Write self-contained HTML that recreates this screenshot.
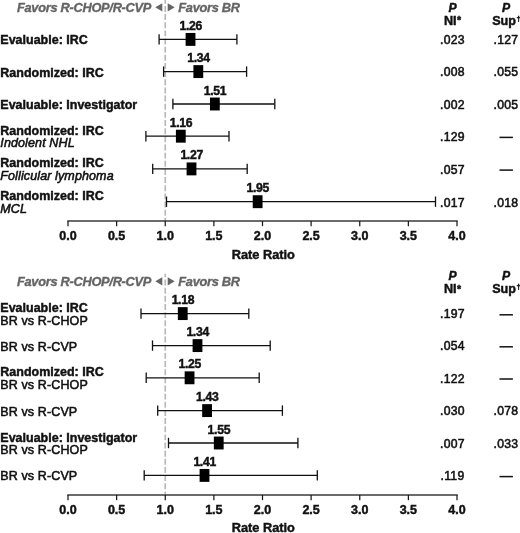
<!DOCTYPE html>
<html><head><meta charset="utf-8"><style>
html,body{margin:0;padding:0;background:#fff;}
svg{display:block;will-change:transform;}
text{font-family:"Liberation Sans",sans-serif;fill:#111;stroke:#111;stroke-width:0.45px;}
.lb{font-weight:bold;font-size:12.5px;letter-spacing:0px;}
.li{font-style:italic;font-size:12.5px;letter-spacing:0.12px;stroke-width:0.55px;}
.lr{font-size:12.5px;letter-spacing:0.12px;stroke-width:0.55px;}
.hdr{font-weight:bold;font-style:italic;font-size:12.8px;letter-spacing:-0.28px;fill:#646464;stroke:#646464;stroke-width:0.35px;}
.tri{fill:#646464;}
.ph{font-weight:bold;font-style:italic;font-size:12.2px;}
.pb{font-weight:bold;font-size:12.6px;}
.pv{font-size:12.2px;letter-spacing:0.3px;stroke-width:0.55px;}
.val{font-weight:bold;font-size:12.2px;letter-spacing:-0.3px;}
.tick{font-weight:bold;font-size:12.5px;}
.rr{font-weight:bold;font-size:12.8px;}
.ci{stroke:#111;stroke-width:1.3;}
.em{stroke:#111;stroke-width:1.5;}
.box{fill:#000;}
.ax{stroke:#3a3a3a;stroke-width:1.7;}
.tk{stroke:#1a1a1a;stroke-width:1.25;}
.dash{stroke:#bababa;stroke-width:1.7;stroke-dasharray:5.95 2.2;}
</style></head><body>
<svg width="520" height="533" viewBox="0 0 520 533">
<line x1="165.25" y1="0" x2="165.25" y2="221.0" class="dash" stroke-dashoffset="2.2"/>
<text x="17.00" y="11.50" class="hdr" text-anchor="start">Favors R-CHOP/R-CVP</text>
<text x="178.30" y="11.50" class="hdr" text-anchor="start">Favors BR</text>
<path d="M155.3 7.30 L162.3 3.20 L162.3 11.40 Z" class="tri"/>
<path d="M174.7 7.30 L167.7 3.20 L167.7 11.40 Z" class="tri"/>
<text x="452.60" y="11.90" class="ph" text-anchor="middle">P</text>
<text x="444.00" y="24.70" class="pb" text-anchor="start">NI<tspan font-size="10.5" dy="-0.6" dx="0.3">*</tspan></text>
<text x="506.00" y="11.90" class="ph" text-anchor="middle">P</text>
<text x="492.20" y="24.70" class="pb" text-anchor="start">Sup<tspan font-size="7.5" dy="-4" dx="0.6">†</tspan></text>
<text x="0.30" y="44.40" class="lb" text-anchor="start">Evaluable: IRC</text>
<line x1="159.10" y1="39.40" x2="236.90" y2="39.40" class="ci"/>
<line x1="159.10" y1="34.20" x2="159.10" y2="44.60" class="ci"/>
<line x1="236.90" y1="34.20" x2="236.90" y2="44.60" class="ci"/>
<rect x="185.63" y="32.95" width="9.8" height="12.9" class="box"/>
<text x="190.69" y="29.90" class="val" text-anchor="middle">1.26</text>
<text x="452.50" y="44.20" class="pv" text-anchor="middle">.023</text>
<text x="506.00" y="44.20" class="pv" text-anchor="middle">.127</text>
<text x="0.30" y="76.60" class="lb" text-anchor="start">Randomized: IRC</text>
<line x1="163.60" y1="71.60" x2="246.60" y2="71.60" class="ci"/>
<line x1="163.60" y1="66.40" x2="163.60" y2="76.80" class="ci"/>
<line x1="246.60" y1="66.40" x2="246.60" y2="76.80" class="ci"/>
<rect x="193.41" y="65.15" width="9.8" height="12.9" class="box"/>
<text x="198.47" y="62.10" class="val" text-anchor="middle">1.34</text>
<text x="452.50" y="76.40" class="pv" text-anchor="middle">.008</text>
<text x="506.00" y="76.40" class="pv" text-anchor="middle">.055</text>
<text x="0.30" y="109.00" class="lb" text-anchor="start">Evaluable: Investigator</text>
<line x1="172.90" y1="104.00" x2="274.80" y2="104.00" class="ci"/>
<line x1="172.90" y1="98.80" x2="172.90" y2="109.20" class="ci"/>
<line x1="274.80" y1="98.80" x2="274.80" y2="109.20" class="ci"/>
<rect x="209.95" y="97.55" width="9.8" height="12.9" class="box"/>
<text x="215.00" y="94.50" class="val" text-anchor="middle">1.51</text>
<text x="452.50" y="108.80" class="pv" text-anchor="middle">.002</text>
<text x="506.00" y="108.80" class="pv" text-anchor="middle">.005</text>
<text x="0.30" y="134.70" class="lb" text-anchor="start">Randomized: IRC</text>
<text x="0.30" y="147.40" class="li" text-anchor="start">Indolent NHL</text>
<line x1="145.90" y1="136.20" x2="229.00" y2="136.20" class="ci"/>
<line x1="145.90" y1="131.00" x2="145.90" y2="141.40" class="ci"/>
<line x1="229.00" y1="131.00" x2="229.00" y2="141.40" class="ci"/>
<rect x="175.91" y="129.75" width="9.8" height="12.9" class="box"/>
<text x="180.96" y="126.70" class="val" text-anchor="middle">1.16</text>
<text x="452.50" y="141.00" class="pv" text-anchor="middle">.129</text>
<line x1="499.5" y1="137.40" x2="512.9" y2="137.40" class="em"/>
<text x="0.30" y="167.40" class="lb" text-anchor="start">Randomized: IRC</text>
<text x="0.30" y="180.10" class="li" text-anchor="start">Follicular lymphoma</text>
<line x1="152.70" y1="168.90" x2="247.20" y2="168.90" class="ci"/>
<line x1="152.70" y1="163.70" x2="152.70" y2="174.10" class="ci"/>
<line x1="247.20" y1="163.70" x2="247.20" y2="174.10" class="ci"/>
<rect x="186.61" y="162.45" width="9.8" height="12.9" class="box"/>
<text x="191.66" y="159.40" class="val" text-anchor="middle">1.27</text>
<text x="452.50" y="173.70" class="pv" text-anchor="middle">.057</text>
<line x1="499.5" y1="170.10" x2="512.9" y2="170.10" class="em"/>
<text x="0.30" y="200.20" class="lb" text-anchor="start">Randomized: IRC</text>
<text x="0.30" y="212.90" class="li" text-anchor="start">MCL</text>
<line x1="166.50" y1="201.70" x2="435.50" y2="201.70" class="ci"/>
<line x1="166.50" y1="196.50" x2="166.50" y2="206.90" class="ci"/>
<line x1="435.50" y1="196.50" x2="435.50" y2="206.90" class="ci"/>
<rect x="252.74" y="195.25" width="9.8" height="12.9" class="box"/>
<text x="257.79" y="192.20" class="val" text-anchor="middle">1.95</text>
<text x="452.50" y="206.50" class="pv" text-anchor="middle">.017</text>
<text x="506.00" y="206.50" class="pv" text-anchor="middle">.018</text>
<line x1="67.30" y1="221.0" x2="457.70" y2="221.0" class="ax"/>
<line x1="68.00" y1="221.0" x2="68.00" y2="226.2" class="tk"/>
<text x="68.00" y="239.70" class="tick" text-anchor="middle">0.0</text>
<line x1="116.62" y1="221.0" x2="116.62" y2="226.2" class="tk"/>
<text x="116.62" y="239.70" class="tick" text-anchor="middle">0.5</text>
<line x1="165.25" y1="221.0" x2="165.25" y2="226.2" class="tk"/>
<text x="165.25" y="239.70" class="tick" text-anchor="middle">1.0</text>
<line x1="213.88" y1="221.0" x2="213.88" y2="226.2" class="tk"/>
<text x="213.88" y="239.70" class="tick" text-anchor="middle">1.5</text>
<line x1="262.50" y1="221.0" x2="262.50" y2="226.2" class="tk"/>
<text x="262.50" y="239.70" class="tick" text-anchor="middle">2.0</text>
<line x1="311.12" y1="221.0" x2="311.12" y2="226.2" class="tk"/>
<text x="311.12" y="239.70" class="tick" text-anchor="middle">2.5</text>
<line x1="359.75" y1="221.0" x2="359.75" y2="226.2" class="tk"/>
<text x="359.75" y="239.70" class="tick" text-anchor="middle">3.0</text>
<line x1="408.38" y1="221.0" x2="408.38" y2="226.2" class="tk"/>
<text x="408.38" y="239.70" class="tick" text-anchor="middle">3.5</text>
<line x1="457.00" y1="221.0" x2="457.00" y2="226.2" class="tk"/>
<text x="457.00" y="239.70" class="tick" text-anchor="middle">4.0</text>
<text x="263.30" y="258.60" class="rr" text-anchor="middle">Rate Ratio</text>
<line x1="165.25" y1="273.8" x2="165.25" y2="495.0" class="dash" stroke-dashoffset="2.4"/>
<text x="17.00" y="285.50" class="hdr" text-anchor="start">Favors R-CHOP/R-CVP</text>
<text x="178.30" y="285.50" class="hdr" text-anchor="start">Favors BR</text>
<path d="M155.3 281.30 L162.3 277.20 L162.3 285.40 Z" class="tri"/>
<path d="M174.7 281.30 L167.7 277.20 L167.7 285.40 Z" class="tri"/>
<text x="452.60" y="280.40" class="ph" text-anchor="middle">P</text>
<text x="444.00" y="293.20" class="pb" text-anchor="start">NI<tspan font-size="10.5" dy="-0.6" dx="0.3">*</tspan></text>
<text x="506.00" y="280.40" class="ph" text-anchor="middle">P</text>
<text x="492.20" y="293.20" class="pb" text-anchor="start">Sup<tspan font-size="7.5" dy="-4" dx="0.6">†</tspan></text>
<text x="0.30" y="312.10" class="lb" text-anchor="start">Evaluable: IRC</text>
<text x="0.30" y="324.80" class="lr" text-anchor="start">BR vs R-CHOP</text>
<line x1="141.00" y1="313.60" x2="248.80" y2="313.60" class="ci"/>
<line x1="141.00" y1="308.40" x2="141.00" y2="318.80" class="ci"/>
<line x1="248.80" y1="308.40" x2="248.80" y2="318.80" class="ci"/>
<rect x="177.85" y="307.15" width="9.8" height="12.9" class="box"/>
<text x="182.91" y="304.10" class="val" text-anchor="middle">1.18</text>
<text x="452.50" y="318.40" class="pv" text-anchor="middle">.197</text>
<line x1="499.5" y1="314.80" x2="512.9" y2="314.80" class="em"/>
<text x="0.30" y="350.60" class="lr" text-anchor="start">BR vs R-CVP</text>
<line x1="152.50" y1="345.60" x2="270.20" y2="345.60" class="ci"/>
<line x1="152.50" y1="340.40" x2="152.50" y2="350.80" class="ci"/>
<line x1="270.20" y1="340.40" x2="270.20" y2="350.80" class="ci"/>
<rect x="192.60" y="339.15" width="9.8" height="12.9" class="box"/>
<text x="197.65" y="336.10" class="val" text-anchor="middle">1.34</text>
<text x="452.50" y="350.40" class="pv" text-anchor="middle">.054</text>
<line x1="499.5" y1="346.80" x2="512.9" y2="346.80" class="em"/>
<text x="0.30" y="376.30" class="lb" text-anchor="start">Randomized: IRC</text>
<text x="0.30" y="389.00" class="lr" text-anchor="start">BR vs R-CHOP</text>
<line x1="146.20" y1="377.80" x2="259.20" y2="377.80" class="ci"/>
<line x1="146.20" y1="372.60" x2="146.20" y2="383.00" class="ci"/>
<line x1="259.20" y1="372.60" x2="259.20" y2="383.00" class="ci"/>
<rect x="184.66" y="371.35" width="9.8" height="12.9" class="box"/>
<text x="189.71" y="368.30" class="val" text-anchor="middle">1.25</text>
<text x="452.50" y="382.60" class="pv" text-anchor="middle">.122</text>
<line x1="499.5" y1="379.00" x2="512.9" y2="379.00" class="em"/>
<text x="0.30" y="415.60" class="lr" text-anchor="start">BR vs R-CVP</text>
<line x1="157.70" y1="410.60" x2="282.40" y2="410.60" class="ci"/>
<line x1="157.70" y1="405.40" x2="157.70" y2="415.80" class="ci"/>
<line x1="282.40" y1="405.40" x2="282.40" y2="415.80" class="ci"/>
<rect x="202.17" y="404.15" width="9.8" height="12.9" class="box"/>
<text x="207.22" y="401.10" class="val" text-anchor="middle">1.43</text>
<text x="452.50" y="415.40" class="pv" text-anchor="middle">.030</text>
<text x="506.00" y="415.40" class="pv" text-anchor="middle">.078</text>
<text x="0.30" y="441.50" class="lb" text-anchor="start">Evaluable: Investigator</text>
<text x="0.30" y="454.20" class="lr" text-anchor="start">BR vs R-CHOP</text>
<line x1="168.50" y1="443.00" x2="297.90" y2="443.00" class="ci"/>
<line x1="168.50" y1="437.80" x2="168.50" y2="448.20" class="ci"/>
<line x1="297.90" y1="437.80" x2="297.90" y2="448.20" class="ci"/>
<rect x="213.84" y="436.55" width="9.8" height="12.9" class="box"/>
<text x="218.89" y="433.50" class="val" text-anchor="middle">1.55</text>
<text x="452.50" y="447.80" class="pv" text-anchor="middle">.007</text>
<text x="506.00" y="447.80" class="pv" text-anchor="middle">.033</text>
<text x="0.30" y="480.40" class="lr" text-anchor="start">BR vs R-CVP</text>
<line x1="144.20" y1="475.40" x2="317.30" y2="475.40" class="ci"/>
<line x1="144.20" y1="470.20" x2="144.20" y2="480.60" class="ci"/>
<line x1="317.30" y1="470.20" x2="317.30" y2="480.60" class="ci"/>
<rect x="199.60" y="468.95" width="9.8" height="12.9" class="box"/>
<text x="204.65" y="465.90" class="val" text-anchor="middle">1.41</text>
<text x="452.50" y="480.20" class="pv" text-anchor="middle">.119</text>
<line x1="499.5" y1="476.60" x2="512.9" y2="476.60" class="em"/>
<line x1="67.30" y1="495.0" x2="457.70" y2="495.0" class="ax"/>
<line x1="68.00" y1="495.0" x2="68.00" y2="500.2" class="tk"/>
<text x="68.00" y="513.70" class="tick" text-anchor="middle">0.0</text>
<line x1="116.62" y1="495.0" x2="116.62" y2="500.2" class="tk"/>
<text x="116.62" y="513.70" class="tick" text-anchor="middle">0.5</text>
<line x1="165.25" y1="495.0" x2="165.25" y2="500.2" class="tk"/>
<text x="165.25" y="513.70" class="tick" text-anchor="middle">1.0</text>
<line x1="213.88" y1="495.0" x2="213.88" y2="500.2" class="tk"/>
<text x="213.88" y="513.70" class="tick" text-anchor="middle">1.5</text>
<line x1="262.50" y1="495.0" x2="262.50" y2="500.2" class="tk"/>
<text x="262.50" y="513.70" class="tick" text-anchor="middle">2.0</text>
<line x1="311.12" y1="495.0" x2="311.12" y2="500.2" class="tk"/>
<text x="311.12" y="513.70" class="tick" text-anchor="middle">2.5</text>
<line x1="359.75" y1="495.0" x2="359.75" y2="500.2" class="tk"/>
<text x="359.75" y="513.70" class="tick" text-anchor="middle">3.0</text>
<line x1="408.38" y1="495.0" x2="408.38" y2="500.2" class="tk"/>
<text x="408.38" y="513.70" class="tick" text-anchor="middle">3.5</text>
<line x1="457.00" y1="495.0" x2="457.00" y2="500.2" class="tk"/>
<text x="457.00" y="513.70" class="tick" text-anchor="middle">4.0</text>
<text x="263.30" y="531.90" class="rr" text-anchor="middle">Rate Ratio</text>
</svg>
</body></html>
